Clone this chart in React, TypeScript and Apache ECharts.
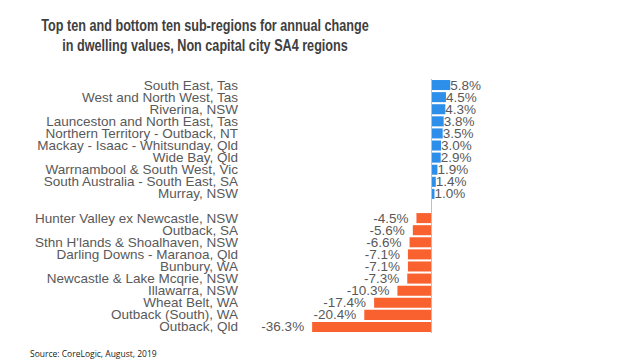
import React, { useEffect, useRef } from "react";
import * as echarts from "echarts";

const categories: string[] = [
  "South East, Tas",
  "West and North West, Tas",
  "Riverina, NSW",
  "Launceston and North East, Tas",
  "Northern Territory - Outback, NT",
  "Mackay - Isaac - Whitsunday, Qld",
  "Wide Bay, Qld",
  "Warrnambool & South West, Vic",
  "South Australia - South East, SA",
  "Murray, NSW",
  "",
  "Hunter Valley ex Newcastle, NSW",
  "Outback, SA",
  "Sthn H'lands & Shoalhaven, NSW",
  "Darling Downs - Maranoa, Qld",
  "Bunbury, WA",
  "Newcastle & Lake Mcqrie, NSW",
  "Illawarra, NSW",
  "Wheat Belt, WA",
  "Outback (South), WA",
  "Outback, Qld",
];

const values: (number | null)[] = [
  5.8, 4.5, 4.3, 3.8, 3.5, 3.0, 2.9, 1.9, 1.4, 1.0,
  null,
  -4.5, -5.6, -6.6, -7.1, -7.1, -7.3, -10.3, -17.4, -20.4, -36.3,
];

const titleLines: string[] = [
  "Top ten and bottom ten sub-regions for annual change",
  "in dwelling values, Non capital city SA4 regions",
];
const sourceText = "Source: CoreLogic, August, 2019";

const BLUE = "#2E8FEA";
const ORANGE = "#F9622F";
const LABEL_GRAY = "#595959";
const FONT = "'Liberation Sans', Arial, sans-serif";

export default function App() {
  const ref = useRef<HTMLDivElement>(null);

  useEffect(() => {
    if (!ref.current) return;
    const chart = echarts.init(ref.current, null, { renderer: "svg" });
    const data = values.map((v) => {
      if (v === null) return { value: null };
      const pos = v >= 0;
      return {
        value: v,
        itemStyle: { color: pos ? BLUE : ORANGE },
        label: {
          show: true,
          position: pos ? "right" : "left",
          distance: pos ? 0 : 8,
          formatter: v.toFixed(1) + "%",
          color: LABEL_GRAY,
          fontSize: 13.5,
          lineHeight: 12,
          fontFamily: FONT,
        },
      };
    });
    chart.setOption({
      animation: false,
      backgroundColor: "#ffffff",
      graphic: [
        ...titleLines.map((t, i) => ({
          type: "text",
          x: 205,
          y: 25 + i * 20,
          scaleX: 0.79,
          style: {
            text: t,
            textAlign: "center",
            textVerticalAlign: "middle",
            fontSize: 16,
            fontWeight: "bold",
            fontFamily: FONT,
            fill: "#404040",
          },
        })),
        {
          type: "text",
          left: 30,
          top: 349,
          style: {
            text: sourceText,
            fontSize: 8.5,
            fontFamily: "'Open Sans', sans-serif",
            fill: "#222222",
          },
        },
      ],
      grid: { left: 300, top: 79, width: 164, height: 254 },
      xAxis: {
        type: "value",
        min: -40,
        max: 10,
        show: false,
        splitLine: { show: false },
      },
      yAxis: {
        type: "category",
        data: categories,
        inverse: true,
        offset: 54,
        axisLine: { show: false, onZero: false },
        axisTick: { show: false },
        axisLabel: {
          margin: 8,
          color: LABEL_GRAY,
          fontSize: 13.5,
          lineHeight: 12,
          fontFamily: FONT,
          interval: 0,
        },
      },
      series: [
        {
          type: "bar",
          data,
          barCategoryGap: "17%",
          markLine: {
            silent: true,
            symbol: "none",
            label: { show: false },
            lineStyle: { color: "#bfbfbf", width: 1, type: "solid" },
            data: [{ xAxis: 0 }],
          },
        },
      ],
    });
    return () => chart.dispose();
  }, []);

  return (
    <div
      ref={ref}
      style={{ position: "fixed", left: 0, top: 0, width: 640, height: 360 }}
    />
  );
}
